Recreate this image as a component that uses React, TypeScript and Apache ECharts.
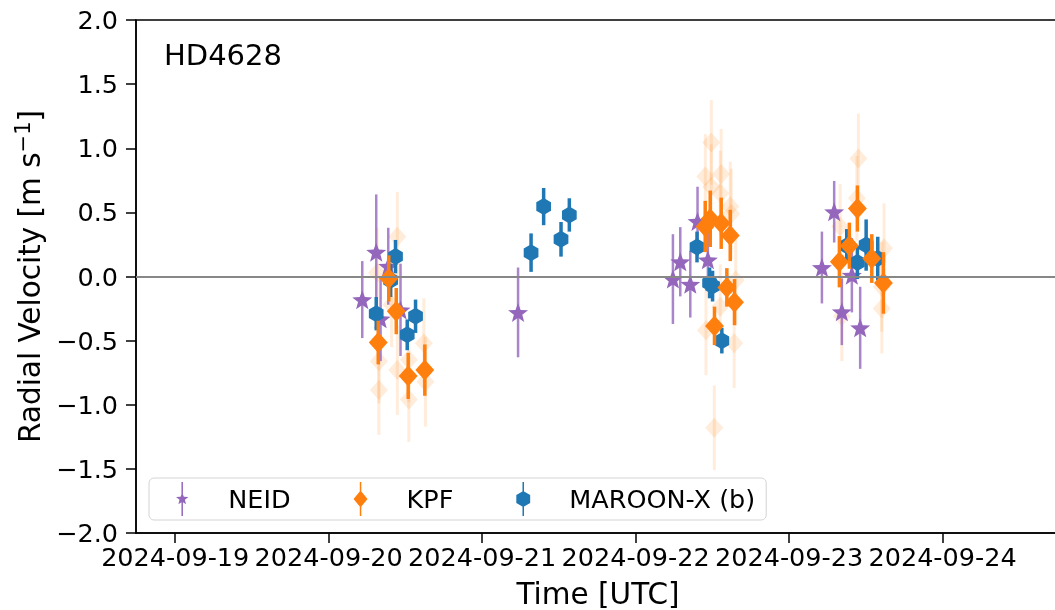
import React, { useEffect, useRef } from "react";
import * as echarts from "echarts";

// ---------- data ----------
const neidTime = [
  "2024-09-20T05:15", "2024-09-20T07:26", "2024-09-20T08:07", "2024-09-20T09:19", "2024-09-20T11:14",
  "2024-09-21T05:37",
  "2024-09-22T05:50", "2024-09-22T06:59", "2024-09-22T08:33", "2024-09-22T09:41", "2024-09-22T11:18",
  "2024-09-23T05:08", "2024-09-23T07:03", "2024-09-23T08:15", "2024-09-23T09:49", "2024-09-23T11:07",
];
const neidRV = [-0.18, 0.19, -0.33, 0.08, -0.26, -0.28, -0.02, 0.115, -0.06, 0.43, 0.13, 0.07, 0.505, -0.275, 0.01, -0.4];
const neidErr = [0.3, 0.45, 0.33, 0.3, 0.36, 0.35, 0.35, 0.27, 0.26, 0.27, 0.23, 0.28, 0.24, 0.26, 0.29, 0.32];

const kpfTime = [
  "2024-09-20T07:45", "2024-09-20T09:24", "2024-09-20T10:34", "2024-09-20T12:26", "2024-09-20T15:02",
  "2024-09-22T10:53", "2024-09-22T11:40", "2024-09-22T12:20", "2024-09-22T13:23", "2024-09-22T14:16",
  "2024-09-22T14:48", "2024-09-22T15:28",
  "2024-09-23T07:52", "2024-09-23T09:26", "2024-09-23T10:41", "2024-09-23T12:56", "2024-09-23T14:45",
];
const kpfRV = [-0.515, -0.015, -0.27, -0.775, -0.73, 0.39, 0.45, -0.385, 0.415, -0.085, 0.32, -0.2, 0.115, 0.24, 0.53, 0.14, -0.05];
const kpfErr = [0.17, 0.18, 0.18, 0.18, 0.2, 0.2, 0.22, 0.15, 0.2, 0.15, 0.2, 0.18, 0.2, 0.18, 0.18, 0.19, 0.24];

const kpfExpTime = [
  "2024-09-20T07:35", "2024-09-20T07:51", "2024-09-20T07:51", "2024-09-20T09:50", "2024-09-20T10:44",
  "2024-09-20T10:44", "2024-09-20T12:32", "2024-09-20T12:32", "2024-09-20T14:53", "2024-09-20T15:08",
  "2024-09-22T10:54", "2024-09-22T11:00", "2024-09-22T11:50", "2024-09-22T11:50", "2024-09-22T12:18",
  "2024-09-22T13:14", "2024-09-22T13:14", "2024-09-22T13:23", "2024-09-22T14:48", "2024-09-22T14:57",
  "2024-09-22T15:25", "2024-09-22T15:39",
  "2024-09-23T07:59", "2024-09-23T08:15", "2024-09-23T10:36", "2024-09-23T10:50", "2024-09-23T14:30",
  "2024-09-23T14:30", "2024-09-23T14:51",
];
const kpfExpRV = [
  0.03, -0.66, -0.885, -0.22, 0.31, -0.73, -0.65, -0.96, -0.52, -0.82,
  0.78, -0.42, 1.045, 0.7, -1.18, 0.65, -0.235, 0.8, 0.545, 0.49, -0.52, -0.03,
  0.39, -0.31, 0.61, 0.92, -0.08, -0.25, 0.22,
];
const kpfExpErr = [
  0.35, 0.33, 0.35, 0.33, 0.35, 0.35, 0.33, 0.33, 0.35, 0.35,
  0.33, 0.35, 0.33, 0.33, 0.33, 0.33, 0.33, 0.35, 0.35, 0.35, 0.35, 0.35,
  0.33, 0.35, 0.33, 0.35, 0.35, 0.35, 0.35,
];

const mxTime = [
  "2024-09-20T07:26", "2024-09-20T09:41", "2024-09-20T10:27", "2024-09-20T12:17", "2024-09-20T13:35",
  "2024-09-21T07:39", "2024-09-21T09:37", "2024-09-21T12:20", "2024-09-21T13:38",
  "2024-09-22T09:36", "2024-09-22T11:34", "2024-09-22T12:02", "2024-09-22T13:29",
  "2024-09-23T09:01", "2024-09-23T10:41", "2024-09-23T12:03", "2024-09-23T13:52",
];
const mxRV = [-0.29, -0.03, 0.155, -0.455, -0.31, 0.186, 0.545, 0.29, 0.48, 0.23, -0.05, -0.075, -0.5, 0.24, 0.11, 0.245, 0.14];
const mxErr = [0.13, 0.13, 0.13, 0.12, 0.13, 0.15, 0.145, 0.135, 0.13, 0.12, 0.12, 0.12, 0.1, 0.13, 0.13, 0.2, 0.17];

const xTickDays = ["2024-09-19", "2024-09-20", "2024-09-21", "2024-09-22", "2024-09-23", "2024-09-24"];
const xMin = "2024-09-18T17:52";
const xMax = "2024-09-24T18:22";
const yTicks = { min: -2, max: 2, step: 0.5 };

const FONT = "DejaVu Sans";
const C_NEID = "#9467bd";
const C_KPF = "#ff7f0e";
const C_MX = "#1f77b4";

const ts = (s: string) => Date.parse(s.length === 10 ? s + "T00:00:00Z" : s + ":00Z");
const rows = (t: string[], v: number[], e: number[]) => t.map((s, i) => [ts(s), v[i], e[i]]);

type Shape = "star" | "diamond" | "hex";

function markerPoints(shape: Shape, cx: number, cy: number, r: number): number[][] {
  const pts: number[][] = [];
  if (shape === "star") {
    for (let k = 0; k < 10; k++) {
      const a = ((-90 + k * 36) * Math.PI) / 180;
      const rr = k % 2 === 0 ? r : r * 0.42;
      pts.push([cx + rr * Math.cos(a), cy + rr * Math.sin(a) + r * 0.1]);
    }
  } else if (shape === "diamond") {
    pts.push([cx, cy - r], [cx + r * 0.9, cy], [cx, cy + r], [cx - r * 0.9, cy]);
  } else {
    for (let k = 0; k < 6; k++) {
      const a = ((-90 + k * 60) * Math.PI) / 180;
      pts.push([cx + r * Math.cos(a), cy + r * Math.sin(a)]);
    }
  }
  return pts;
}

function errSeries(name: string, data: number[][], color: string, shape: Shape, r: number, barW: number, opacity: number, barOpacity: number, z: number, extra: any = {}) {
  return {
    type: "custom",
    name,
    z,
    clip: true,
    itemStyle: { color },
    encode: { x: 0, y: 1 },
    data,
    renderItem: (params: any, api: any) => {
      const t = api.value(0);
      const v = api.value(1);
      const e = api.value(2);
      const top = api.coord([t, v + e]);
      const bot = api.coord([t, v - e]);
      const c = api.coord([t, v]);
      return {
        type: "group",
        children: [
          {
            type: "line",
            shape: { x1: c[0], y1: top[1], x2: c[0], y2: bot[1] },
            style: { stroke: color, lineWidth: barW, opacity: barOpacity },
          },
          {
            type: "polygon",
            shape: { points: markerPoints(shape, c[0], c[1], r) },
            style: { fill: color, opacity },
          },
        ],
      };
    },
    ...extra,
  };
}

// legend handles: vertical error bar + marker (box 0..14 x 0..34)
const starIcon =
  "path://M6.25 0H7.75V34H6.25Z M7 10.6L8.65 14.7L13.2 15L9.7 17.8L10.8 22.3L7 19.8L3.2 22.3L4.3 17.8L0.8 15L5.35 14.7Z";
const diamondIcon = "path://M6.25 0H7.75V34H6.25Z M7 8.5L14 17L7 25.5L0 17Z";
const hexIcon = "path://M6.25 0H7.75V34H6.25Z M7 9L13.93 13L13.93 21L7 25L0.07 21L0.07 13Z";

export default function App() {
  const ref = useRef<HTMLDivElement>(null);
  useEffect(() => {
    if (!ref.current) return;
    const chart = echarts.init(ref.current, null, { renderer: "svg" });
    const tickVals = xTickDays.map(ts);
    const option: any = {
      animation: false,
      textStyle: { fontFamily: FONT },
      grid: {
        left: 136,
        top: 20,
        width: 924,
        height: 513,
        outerBoundsMode: "none",
        containLabel: false,
        show: true,
        borderColor: "#000",
        borderWidth: 1.5,
        backgroundColor: "transparent",
      },
      xAxis: {
        type: "value",
        min: ts(xMin),
        max: ts(xMax),
        name: "Time [UTC]",
        nameLocation: "middle",
        nameGap: 46,
        nameTextStyle: { fontFamily: FONT, fontSize: 29.5, color: "#000" },
        axisLine: { onZero: false, lineStyle: { color: "#000", width: 1.5 } },
        axisTick: { show: true, inside: false, length: 10, lineStyle: { color: "#000", width: 1.5 }, customValues: tickVals },
        axisLabel: {
          customValues: tickVals,
          margin: 11,
          fontFamily: FONT,
          fontSize: 25.5,
          color: "#000",
          formatter: (v: number) => new Date(v).toISOString().slice(0, 10),
        },
        splitLine: { show: false },
      },
      yAxis: {
        type: "value",
        min: yTicks.min,
        max: yTicks.max,
        interval: yTicks.step,
        name: "{a|Radial Velocity [m s}{s|\u22121}{a|]}",
        nameLocation: "middle",
        nameGap: 82,
        nameTextStyle: {
          fontFamily: FONT,
          fontSize: 29.5,
          color: "#000",
          rich: {
            a: { fontFamily: FONT, fontSize: 29.5, color: "#000" },
            s: { fontFamily: FONT, fontSize: 21, color: "#000", padding: [0, 0, 14, 0] },
          },
        },
        axisLine: { show: true, onZero: false, lineStyle: { color: "#000", width: 1.5 } },
        axisTick: { show: true, inside: false, length: 10, lineStyle: { color: "#000", width: 1.5 } },
        axisLabel: {
          margin: 18,
          fontFamily: FONT,
          fontSize: 25.5,
          color: "#000",
          formatter: (v: number) => (v < 0 ? "\u2212" : "") + Math.abs(v).toFixed(1),
        },
        splitLine: { show: false },
      },
      legend: {
        left: 149,
        top: 478,
        orient: "horizontal",
        itemWidth: 14,
        itemHeight: 34,
        itemGap: 63,
        padding: [4, 11, 4, 27],
        borderColor: "#d4d4d4",
        borderWidth: 1,
        borderRadius: 5,
        backgroundColor: "rgba(255,255,255,0.8)",
        selectedMode: false,
        textStyle: { fontFamily: FONT, fontSize: 25.5, color: "#000", padding: [0, 0, 0, 34] },
        data: [
          { name: "NEID", icon: starIcon },
          { name: "KPF", icon: diamondIcon },
          { name: "MAROON-X (b)", icon: hexIcon },
        ],
      },
      graphic: [
        {
          type: "text",
          left: 164,
          top: 40,
          style: { text: "HD4628", font: `29px '${FONT}'`, fill: "#000" },
        },
      ],
      series: [
        errSeries("KPF exposures", rows(kpfExpTime, kpfExpRV, kpfExpErr), C_KPF, "diamond", 10, 3, 0.15, 0.15, 1, {
          markLine: {
            silent: true,
            symbol: "none",
            label: { show: false },
            lineStyle: { color: "#878787", width: 2, type: "solid", opacity: 1 },
            data: [{ yAxis: 0 }],
          },
        }),
        errSeries("NEID", rows(neidTime, neidRV, neidErr), C_NEID, "star", 10.5, 2.5, 1, 0.8, 2),
        errSeries("MAROON-X (b)", rows(mxTime, mxRV, mxErr), C_MX, "hex", 8.5, 3.5, 1, 1, 3),
        errSeries("KPF", rows(kpfTime, kpfRV, kpfErr), C_KPF, "diamond", 10.5, 3.5, 1, 1, 4),
      ],
    };
    chart.setOption(option);
    return () => chart.dispose();
  }, []);
  return <div ref={ref} style={{ position: "fixed", left: 0, top: 0, width: 1055, height: 610 }} />;
}
